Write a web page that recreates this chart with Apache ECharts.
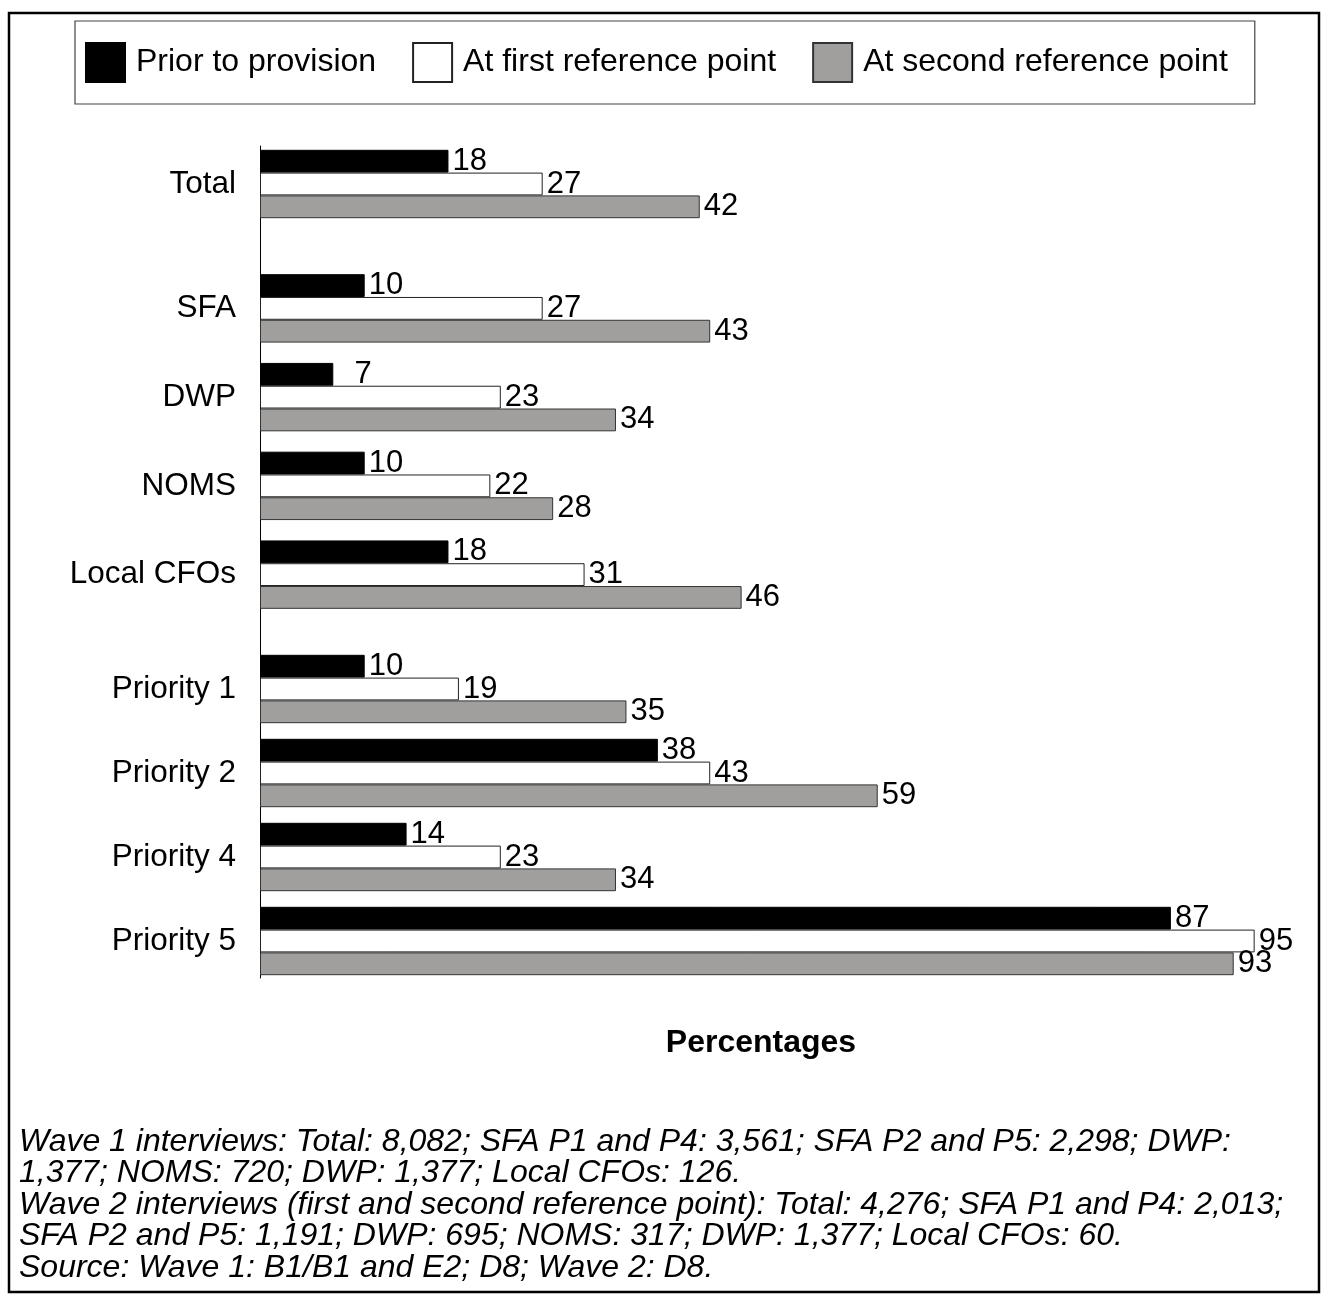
<!DOCTYPE html>
<html>
<head>
<meta charset="utf-8">
<script src="https://cdn.jsdelivr.net/npm/echarts@6/dist/echarts.min.js"></script>
<style>
  html, body { margin: 0; padding: 0; background: #fff; }
  #chart { width: 1322px; height: 1295px; }
</style>
</head>
<body>
<div id="chart"></div>
<script>
// Rows of the chart, top to bottom
const categories = ['Total', 'SFA', 'DWP', 'NOMS', 'Local CFOs', 'Priority 1', 'Priority 2', 'Priority 4', 'Priority 5'];
// How many rows belong to each visual block (Total / agencies / priorities)
const groupSizes = [1, 4, 4];

// Percentages per row
const priorToProvision = [18, 10, 7, 10, 18, 10, 38, 14, 87];
const atFirstReference = [27, 27, 23, 22, 31, 19, 43, 23, 95];
const atSecondReference = [42, 43, 34, 28, 46, 35, 59, 34, 93];

const seriesNames = ['Prior to provision', 'At first reference point', 'At second reference point'];
const seriesValues = [priorToProvision, atFirstReference, atSecondReference];

const footnoteLines = [
  'Wave 1 interviews: Total: 8,082; SFA P1 and P4: 3,561; SFA P2 and P5: 2,298; DWP:',
  '1,377; NOMS: 720; DWP: 1,377; Local CFOs: 126.',
  'Wave 2 interviews (first and second reference point): Total: 4,276; SFA P1 and P4: 2,013;',
  'SFA P2 and P5: 1,191; DWP: 695; NOMS: 317; DWP: 1,377; Local CFOs: 60.',
  'Source: Wave 1: B1/B1 and E2; D8; Wave 2: D8.'
];

const FONT = '"Liberation Sans", Arial, Helvetica, sans-serif';
const seriesStyles = [
  { color: '#000000', borderColor: '#000000', borderWidth: 1 },
  { color: '#ffffff', borderColor: '#222222', borderWidth: 1 },
  { color: '#a09f9e', borderColor: '#333333', borderWidth: 1 }
];

// Vertical placement of each block of rows
const PLOT_LEFT = 260;
const PLOT_RIGHT = 15;
const blockFrames = [
  { top: 146, height: 76 },
  { top: 264, height: 355 },
  { top: 647, height: 336 }
];

const grids = [];
const xAxes = [];
const yAxes = [];
const series = [];

let start = 0;
groupSizes.forEach((size, g) => {
  const rows = categories.slice(start, start + size);
  grids.push({ left: PLOT_LEFT, right: PLOT_RIGHT, top: blockFrames[g].top, height: blockFrames[g].height });
  xAxes.push({ gridIndex: g, type: 'value', min: 0, max: 100, show: false });
  yAxes.push({
    gridIndex: g,
    type: 'category',
    inverse: true,
    data: rows,
    axisLine: { show: false },
    axisTick: { show: false },
    splitLine: { show: false },
    axisLabel: { color: '#000', fontSize: 31.5, fontFamily: FONT, margin: 24 }
  });
  seriesNames.forEach((name, s) => {
    series.push({
      type: 'bar',
      name: name,
      xAxisIndex: g,
      yAxisIndex: g,
      barWidth: 22.8,
      barGap: '0%',
      data: seriesValues[s].slice(start, start + size),
      itemStyle: seriesStyles[s],
      label: {
        show: true,
        position: 'right',
        distance: 4,
        color: '#000',
        fontSize: 31,
        fontFamily: FONT,
        formatter: p => String(p.value).padStart(2, '\u2007')
      },
      emphasis: { disabled: true },
      animation: false
    });
  });
  start += size;
});

// One continuous vertical axis line running past all blocks
grids.push({ left: PLOT_LEFT, right: PLOT_RIGHT, top: 146, bottom: 1295 - 978 });
xAxes.push({ gridIndex: 3, type: 'value', min: 0, max: 100, show: false });
yAxes.push({
  gridIndex: 3,
  type: 'value',
  min: 0,
  max: 1,
  axisLine: { show: true, lineStyle: { color: '#000', width: 1 } },
  axisTick: { show: false },
  axisLabel: { show: false },
  splitLine: { show: false }
});

const chart = echarts.init(document.getElementById('chart'), null, { renderer: 'canvas' });
chart.setOption({
  backgroundColor: '#ffffff',
  animation: false,
  legend: {
    data: seriesNames,
    left: 75,
    top: 21,
    padding: [21, 27, 21, 10],
    itemGap: 36,
    itemWidth: 39,
    itemHeight: 39,
    borderColor: '#444',
    borderWidth: 1.2,
    selectedMode: false,
    icon: 'rect',
    textStyle: { color: '#000', fontSize: 32, fontFamily: FONT, padding: [0, 0, 0, 6] }
  },
  title: [
    {
      text: 'Percentages',
      left: 756,
      textAlign: 'center',
      top: 1022,
      textStyle: { fontSize: 32, fontWeight: 'bold', color: '#000', fontFamily: FONT }
    },
    {
      text: footnoteLines.join('\n'),
      left: 14,
      top: 1121,
      textStyle: { fontSize: 32, fontStyle: 'italic', fontWeight: 'normal', color: '#000', fontFamily: FONT, lineHeight: 31.5 }
    }
  ],
  graphic: [
    {
      type: 'rect',
      silent: true,
      shape: { x: 9, y: 13, width: 1310, height: 1279 },
      style: { fill: 'none', stroke: '#000', lineWidth: 2.5 },
      z: 100
    }
  ],
  grid: grids,
  xAxis: xAxes,
  yAxis: yAxes,
  series: series
});
</script>
</body>
</html>
